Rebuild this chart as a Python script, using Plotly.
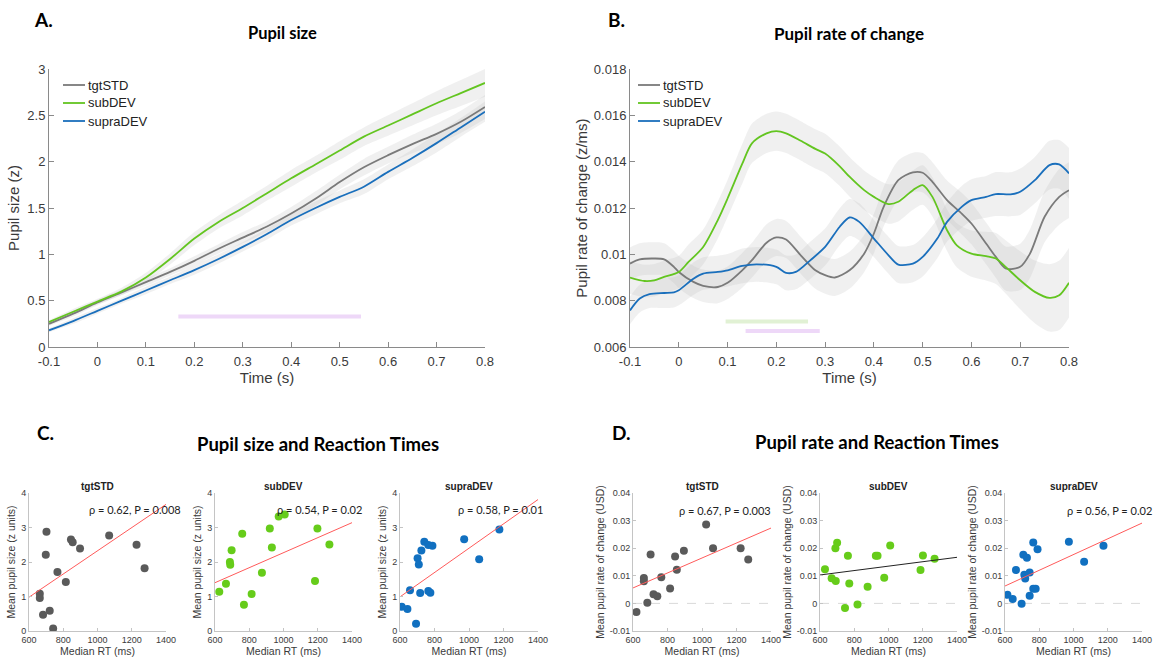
import plotly.graph_objects as go

W, H = 1158, 660

# ---------------- Panel A : Pupil size ----------------
t_a = [-0.1, -0.05, 0, 0.05, 0.1, 0.15, 0.2, 0.25, 0.3, 0.35, 0.4, 0.45, 0.5, 0.55, 0.6, 0.65, 0.7, 0.75, 0.8]
std_a = [0.25, 0.36, 0.48, 0.59, 0.70, 0.81, 0.93, 1.06, 1.18, 1.30, 1.44, 1.60, 1.78, 1.94, 2.07, 2.19, 2.30, 2.43, 2.59]
sub_a = [0.27, 0.38, 0.49, 0.60, 0.75, 0.95, 1.17, 1.35, 1.50, 1.66, 1.82, 1.97, 2.12, 2.27, 2.39, 2.51, 2.63, 2.74, 2.85]
sup_a = [0.18, 0.28, 0.39, 0.50, 0.61, 0.72, 0.83, 0.95, 1.08, 1.22, 1.37, 1.50, 1.62, 1.73, 1.89, 2.04, 2.20, 2.37, 2.54]
sem_std_a = [0.02, 0.03, 0.03, 0.03, 0.04, 0.04, 0.05, 0.05, 0.06, 0.06, 0.07, 0.08, 0.08, 0.09, 0.09, 0.10, 0.11, 0.12, 0.13]
sem_sub_a = [0.02, 0.03, 0.03, 0.04, 0.05, 0.06, 0.07, 0.07, 0.08, 0.08, 0.09, 0.09, 0.10, 0.10, 0.11, 0.12, 0.13, 0.14, 0.15]
sem_sup_a = [0.02, 0.03, 0.03, 0.03, 0.04, 0.04, 0.05, 0.05, 0.05, 0.06, 0.06, 0.07, 0.07, 0.08, 0.08, 0.09, 0.10, 0.10, 0.11]
sig_a = [("supraDEV", 0.167, 0.544, 0.328)]

# ---------------- Panel B : Pupil rate of change ----------------
t_std_b = [-0.1, -0.08, -0.05, -0.03, -0.01, 0.0, 0.03, 0.05, 0.08, 0.1, 0.13, 0.15, 0.18, 0.2, 0.22, 0.25, 0.28, 0.3, 0.32,
           0.35, 0.38, 0.4, 0.42, 0.45, 0.48, 0.5, 0.52, 0.55, 0.58, 0.6, 0.63, 0.65, 0.67, 0.7, 0.72, 0.75, 0.78, 0.8]
std_b = [0.00960, 0.00978, 0.00982, 0.00978, 0.00946, 0.00924, 0.00881, 0.00864, 0.00859, 0.00877, 0.00931, 0.00975,
         0.01050, 0.01073, 0.01064, 0.00996, 0.00931, 0.00910, 0.00900, 0.00931, 0.01003, 0.01090, 0.01205, 0.01320,
         0.01354, 0.01352, 0.01313, 0.01234, 0.01176, 0.01133, 0.01047, 0.00989, 0.00939, 0.00946, 0.01003, 0.01162,
         0.01248, 0.01277]
sem_std_b = [0.0007, 0.0007, 0.0007, 0.0007, 0.0007, 0.0007, 0.0007, 0.0007, 0.0007, 0.0007, 0.00075, 0.00075, 0.0008,
             0.0008, 0.0008, 0.0008, 0.0008, 0.0008, 0.0008, 0.0008, 0.0008, 0.00085, 0.00085, 0.00085, 0.00085, 0.00085,
             0.00085, 0.00085, 0.0009, 0.0009, 0.0009, 0.0009, 0.00095, 0.001, 0.00105, 0.0011, 0.0012, 0.0012]

t_sub_b = [-0.1, -0.07, -0.05, -0.03, 0.0, 0.02, 0.05, 0.08, 0.1, 0.13, 0.15, 0.18, 0.2, 0.22, 0.25, 0.28, 0.3, 0.33, 0.35,
           0.38, 0.4, 0.43, 0.45, 0.48, 0.5, 0.52, 0.55, 0.57, 0.6, 0.63, 0.65, 0.67, 0.7, 0.73, 0.76, 0.78, 0.8]
sub_b = [0.00900, 0.00885, 0.00888, 0.00903, 0.00924, 0.00967, 0.01032, 0.01148, 0.01241, 0.01390, 0.01479, 0.01522,
         0.01532, 0.01522, 0.01490, 0.01455, 0.01435, 0.01380, 0.01335, 0.01277, 0.01248, 0.01217, 0.01227, 0.01277,
         0.01299, 0.01248, 0.01104, 0.01039, 0.01003, 0.00992, 0.00982, 0.00946, 0.00888, 0.00838, 0.00812, 0.00823,
         0.00877]
sem_sub_b = [0.0007, 0.0007, 0.0007, 0.0007, 0.0007, 0.00075, 0.00075, 0.0008, 0.0008, 0.00085, 0.00085, 0.00085, 0.00085,
             0.00085, 0.00085, 0.00085, 0.00085, 0.00085, 0.00085, 0.00085, 0.00085, 0.00085, 0.00085, 0.00085, 0.00085,
             0.00085, 0.0009, 0.00095, 0.001, 0.00105, 0.0011, 0.00115, 0.00125, 0.00135, 0.00145, 0.0015, 0.0015]

t_sup_b = [-0.1, -0.08, -0.06, -0.03, -0.01, 0.0, 0.03, 0.05, 0.08, 0.1, 0.13, 0.16, 0.2, 0.22, 0.24, 0.27, 0.3, 0.33, 0.35,
           0.37, 0.4, 0.43, 0.45, 0.48, 0.5, 0.53, 0.55, 0.58, 0.6, 0.63, 0.65, 0.68, 0.7, 0.73, 0.76, 0.78, 0.8]
sup_b = [0.00758, 0.00809, 0.00828, 0.00833, 0.00836, 0.00845, 0.00895, 0.00917, 0.00924, 0.00931, 0.00950, 0.00957,
         0.00946, 0.00920, 0.00924, 0.00975, 0.01032, 0.01119, 0.01159, 0.01140, 0.01068, 0.00996, 0.00956, 0.00960,
         0.00989, 0.01068, 0.01140, 0.01205, 0.01234, 0.01248, 0.01260, 0.01259, 0.01270, 0.01320, 0.01385, 0.01388,
         0.01349]
sem_sup_b = [0.0006, 0.0006, 0.0006, 0.00065, 0.00065, 0.00065, 0.0007, 0.0007, 0.0007, 0.0007, 0.00075, 0.00075, 0.00075,
             0.00075, 0.00075, 0.0008, 0.0008, 0.0008, 0.0008, 0.0008, 0.0008, 0.0008, 0.0008, 0.0008, 0.00085, 0.00085,
             0.00085, 0.0009, 0.0009, 0.0009, 0.00095, 0.00095, 0.001, 0.001, 0.00105, 0.00105, 0.0011]
sig_b = [("subDEV", 0.096, 0.265, 0.00710), ("supraDEV", 0.137, 0.289, 0.00669)]

time_ticks = [-0.1, 0, 0.1, 0.2, 0.3, 0.4, 0.5, 0.6, 0.7, 0.8]
time_ticktext = ["-0.1", "0", "0.1", "0.2", "0.3", "0.4", "0.5", "0.6", "0.7", "0.8"]
size_ticks = [0, 0.5, 1, 1.5, 2, 2.5, 3]
size_ticktext = ["0", "0.5", "1", "1.5", "2", "2.5", "3"]
rate_ticks = [0.006, 0.008, 0.01, 0.012, 0.014, 0.016, 0.018]
rate_ticktext = ["0.006", "0.008", "0.01", "0.012", "0.014", "0.016", "0.018"]

# ---------------- Panel C : pupil size vs RT ----------------
rt_c_std = [663, 663, 702, 698, 682, 721, 741, 766, 815, 845, 855, 898, 1068, 1228, 1275]
ps_c_std = [1.08, 0.96, 2.88, 2.21, 0.47, 0.59, 0.07, 1.71, 1.42, 2.65, 2.57, 2.39, 2.77, 2.50, 1.82]
rt_c_sub = [625, 664, 687, 689, 697, 759, 769, 814, 874, 920, 932, 972, 1007, 1184, 1198, 1268]
ps_c_sub = [1.14, 1.37, 2.00, 1.92, 2.34, 2.82, 0.76, 1.07, 1.69, 2.97, 2.42, 3.32, 3.38, 1.45, 2.97, 2.51]
rt_c_sup = [610, 643, 658, 693, 702, 709, 717, 724, 741, 764, 764, 776, 788, 972, 1059, 1176]
ps_c_sup = [0.70, 0.64, 1.18, 0.21, 2.11, 1.93, 1.10, 2.33, 2.59, 2.49, 1.16, 1.11, 2.47, 2.66, 2.08, 2.94]

# ---------------- Panel D : pupil rate vs RT ----------------
rt_d_std = [620, 663, 663, 683, 702, 719, 741, 764, 815, 844, 854, 895, 1024, 1064, 1224, 1268]
pr_d_std = [-0.0031, 0.0080, 0.0092, 0.0002, 0.0177, 0.0033, 0.0026, 0.0095, 0.0054, 0.0170, 0.0122, 0.0191, 0.0286,
            0.0200, 0.0200, 0.0159]
rt_d_sub = [629, 668, 692, 690, 700, 746, 763, 771, 819, 878, 926, 936, 975, 1010, 1187, 1201, 1269]
pr_d_sub = [0.0124, 0.0091, 0.0081, 0.0200, 0.0220, -0.0017, 0.0173, 0.0072, -0.0004, 0.0060, 0.0173, 0.0173, 0.0093,
            0.0210, 0.0121, 0.0174, 0.0162]
rt_d_sup = [614, 645, 664, 697, 707, 713, 718, 728, 744, 744, 765, 765, 779, 790, 973, 1062, 1175]
pr_d_sup = [0.0031, 0.0016, 0.0121, -0.0001, 0.0176, 0.0104, 0.0090, 0.0165, 0.0112, 0.0028, 0.0221, 0.0053, 0.0053,
            0.0196, 0.0223, 0.0151, 0.0209]

fit_x = [600, 1400]
fit_c_std = [0.98, 3.67]
fit_c_sub = [1.40, 3.14]
fit_c_sup = [0.99, 3.81]
fit_d_std = [0.0056, 0.0273]
fit_d_sub = [0.0103, 0.0167]
fit_d_sup = [0.0063, 0.0291]
stats_c = ["ρ = 0.62, P = 0.008", "ρ = 0.54, P = 0.02", "ρ = 0.58, P = 0.01"]
stats_d = ["ρ = 0.67, P = 0.003", "", "ρ = 0.56, P = 0.02"]

rt_ticks = [600, 800, 1000, 1200, 1400]
c_ticks = [0, 1, 2, 3, 4]
d_ticks = [-0.01, 0, 0.01, 0.02, 0.03, 0.04]
d_ticktext = ["-0.01", "0", "0.01", "0.02", "0.03", "0.04"]

conditions = ["tgtSTD", "subDEV", "supraDEV"]

# ---------------- styling ----------------
LINE_COL = {"tgtSTD": "#7a7a7a", "subDEV": "#63c520", "supraDEV": "#1a6fbc"}
DOT_COL = {"tgtSTD": "#5a5a5a", "subDEV": "#66cc1a", "supraDEV": "#1170c0"}
SIG_COL = {"subDEV": "#e1f1d4", "supraDEV": "#eed8f8"}
BAND = "rgba(185,185,185,0.22)"
FIT_COL = ["#ff5a5a", "#222222", "#ff5a5a"]
SANS = "Liberation Sans, Arial, sans-serif"
TITLE_FONT = "Lato, Calibri, sans-serif"
AX_COL = "#8a8a8a"
TXT_COL = "#3a3a3a"


def px_x(p):
    return p / W


def px_y(p):
    return 1 - p / H


fig = go.Figure()


def add_band(t, y, s, xa, ya):
    up = [a + b for a, b in zip(y, s)]
    lo = [a - b for a, b in zip(y, s)]
    fig.add_trace(go.Scatter(x=t, y=up, mode="lines", line=dict(width=0, shape="spline", smoothing=0.8),
                             hoverinfo="skip", showlegend=False, xaxis=xa, yaxis=ya))
    fig.add_trace(go.Scatter(x=t, y=lo, mode="lines", line=dict(width=0, shape="spline", smoothing=0.8),
                             fill="tonexty", fillcolor=BAND, hoverinfo="skip", showlegend=False, xaxis=xa, yaxis=ya))


series_a = [("tgtSTD", t_a, std_a, sem_std_a), ("subDEV", t_a, sub_a, sem_sub_a), ("supraDEV", t_a, sup_a, sem_sup_a)]
series_b = [("tgtSTD", t_std_b, std_b, sem_std_b), ("subDEV", t_sub_b, sub_b, sem_sub_b),
            ("supraDEV", t_sup_b, sup_b, sem_sup_b)]

for name, t, y, s in series_a:
    add_band(t, y, s, "x", "y")
for name, t, y, s in series_b:
    add_band(t, y, s, "x2", "y2")

for name, x0, x1, yv in sig_a:
    fig.add_trace(go.Scatter(x=[x0, x1], y=[yv, yv], mode="lines", line=dict(color=SIG_COL[name], width=4),
                             showlegend=False, hoverinfo="skip", xaxis="x", yaxis="y"))
for name, x0, x1, yv in sig_b:
    fig.add_trace(go.Scatter(x=[x0, x1], y=[yv, yv], mode="lines", line=dict(color=SIG_COL[name], width=4),
                             showlegend=False, hoverinfo="skip", xaxis="x2", yaxis="y2"))

for name, t, y, s in series_a:
    fig.add_trace(go.Scatter(x=t, y=y, mode="lines", name=name, showlegend=False,
                             line=dict(color=LINE_COL[name], width=1.8, shape="spline", smoothing=0.8),
                             xaxis="x", yaxis="y"))
for name, t, y, s in series_b:
    fig.add_trace(go.Scatter(x=t, y=y, mode="lines", name=name, showlegend=False,
                             line=dict(color=LINE_COL[name], width=1.8, shape="spline", smoothing=0.8),
                             xaxis="x2", yaxis="y2"))

scatter_sets = [
    ("x3", "y3", "tgtSTD", rt_c_std, ps_c_std, fit_c_std, FIT_COL[0]),
    ("x4", "y4", "subDEV", rt_c_sub, ps_c_sub, fit_c_sub, FIT_COL[0]),
    ("x5", "y5", "supraDEV", rt_c_sup, ps_c_sup, fit_c_sup, FIT_COL[0]),
    ("x6", "y6", "tgtSTD", rt_d_std, pr_d_std, fit_d_std, FIT_COL[0]),
    ("x7", "y7", "subDEV", rt_d_sub, pr_d_sub, fit_d_sub, FIT_COL[1]),
    ("x8", "y8", "supraDEV", rt_d_sup, pr_d_sup, fit_d_sup, FIT_COL[2]),
]
for xa, ya, name, xs, ys, fit, fc in scatter_sets:
    if xa in ("x6", "x7", "x8"):
        fig.add_trace(go.Scatter(x=[rt_ticks[0], rt_ticks[-1]], y=[0, 0], mode="lines",
                                 line=dict(color="#d9d9d9", width=1, dash="dash"), showlegend=False,
                                 hoverinfo="skip", xaxis=xa, yaxis=ya))
    fig.add_trace(go.Scatter(x=xs, y=ys, mode="markers", name=name, showlegend=False,
                             marker=dict(color=DOT_COL[name], size=8, line=dict(width=0)), xaxis=xa, yaxis=ya))
    fig.add_trace(go.Scatter(x=fit_x, y=fit, mode="lines", line=dict(color=fc, width=1), showlegend=False,
                             hoverinfo="skip", xaxis=xa, yaxis=ya))


def axis_common(size):
    return dict(showline=True, linecolor=AX_COL, linewidth=1, ticks="inside", tickcolor=AX_COL, showgrid=False,
                zeroline=False, automargin=False, tickfont=dict(family=SANS, size=size, color=TXT_COL))


layout = dict(template="none", width=W, height=H, margin=dict(l=0, r=0, t=0, b=0, pad=0),
              paper_bgcolor="white", plot_bgcolor="white", showlegend=False,
              font=dict(family=SANS, color=TXT_COL))

layout["xaxis"] = dict(axis_common(13), domain=[px_x(49), px_x(485)], range=[-0.1, 0.8], tickvals=time_ticks,
                       ticktext=time_ticktext, ticklen=5, anchor="y", ticklabelstandoff=2,
                       title=dict(text="Time (s)", font=dict(size=15, color=TXT_COL), standoff=3))
layout["yaxis"] = dict(axis_common(13), domain=[px_y(347), px_y(69)], range=[0, 3], tickvals=size_ticks,
                       ticktext=size_ticktext, ticklen=5, anchor="x",
                       title=dict(text="Pupil size (z)", font=dict(size=15, color=TXT_COL), standoff=4))
layout["xaxis2"] = dict(axis_common(13), domain=[px_x(630), px_x(1069)], range=[-0.1, 0.8], tickvals=time_ticks,
                        ticktext=time_ticktext, ticklen=5, anchor="y2", ticklabelstandoff=2,
                        title=dict(text="Time (s)", font=dict(size=15, color=TXT_COL), standoff=3))
layout["yaxis2"] = dict(axis_common(13), domain=[px_y(347), px_y(69)], range=[0.006, 0.018], tickvals=rate_ticks,
                        ticktext=rate_ticktext, ticklen=5, anchor="x2",
                        title=dict(text="Pupil rate of change (z/ms)", font=dict(size=15, color=TXT_COL), standoff=2))

sc_dom = {
    "3": (29, 166), "4": (215, 352), "5": (400, 538),
    "6": (633, 771), "7": (820, 957), "8": (1005, 1142),
}
for k, (l, r) in sc_dom.items():
    is_d = k in ("6", "7", "8")
    layout["xaxis" + k] = dict(axis_common(9), domain=[px_x(l), px_x(r)], range=[600, 1400], tickvals=rt_ticks,
                              ticklen=3, linecolor="#c4c4c4", tickcolor="#c4c4c4", anchor="y" + k,
                              title=dict(text="Median RT (ms)", font=dict(size=10.5, color=TXT_COL), standoff=3))
    if is_d:
        ydict = dict(range=[-0.01, 0.04], tickvals=d_ticks, ticktext=d_ticktext,
                     title=dict(text="Mean pupil rate of change (USD)", font=dict(size=10.5, color=TXT_COL),
                                standoff=3))
    else:
        ydict = dict(range=[0, 4], tickvals=c_ticks,
                     title=dict(text="Mean pupil size (z units)", font=dict(size=10.5, color=TXT_COL), standoff=3))
    layout["yaxis" + k] = dict(axis_common(9), domain=[px_y(631), px_y(493)], ticklen=3, linecolor="#c4c4c4",
                              tickcolor="#c4c4c4", anchor="x" + k, **ydict)

fig.update_layout(**layout)

# ---------------- manual legends (panel A and B) ----------------
shapes = []
ann = []
legend_rows = [85, 103, 121]
for x_line0 in (63, 638):
    for name, yrow in zip(conditions, legend_rows):
        shapes.append(dict(type="line", xref="paper", yref="paper", x0=px_x(x_line0), x1=px_x(x_line0 + 22),
                           y0=px_y(yrow), y1=px_y(yrow), line=dict(color=LINE_COL[name], width=1.8)))
        ann.append(dict(x=px_x(x_line0 + 23), y=px_y(yrow), xref="paper", yref="paper", text=name, showarrow=False,
                        xanchor="left", yanchor="middle", font=dict(family=SANS, size=13, color="#222222")))


def txt(x, y, s, size, bold=True, family=TITLE_FONT, color="black", xanchor="center"):
    ann.append(dict(x=px_x(x), y=px_y(y), xref="paper", yref="paper", text=("<b>%s</b>" % s) if bold else s,
                    showarrow=False, font=dict(family=family, size=size, color=color), xanchor=xanchor,
                    yanchor="middle"))


txt(43, 19, "A.", 19)
txt(616, 19, "B.", 19)
txt(282, 33, "Pupil size", 16.5)
txt(849, 33, "Pupil rate of change", 17)
txt(45, 433, "C.", 19)
txt(621, 433, "D.", 19)
txt(318, 444, "Pupil size and Reaction Times", 18.5)
txt(877, 442, "Pupil rate and Reaction Times", 18.5)

for k, name in zip(["3", "4", "5", "6", "7", "8"], conditions * 2):
    ann.append(dict(x=0.5, y=px_y(486), xref="x%s domain" % k, yref="paper", text="<b>%s</b>" % name,
                    showarrow=False, font=dict(family=SANS, size=10, color="#222222"), xanchor="center",
                    yanchor="middle"))

stat_pos_c = [940, 950, 925]
stat_pos_d = [855, 0, 950]
for k, s, xp in zip(["3", "4", "5"], stats_c, stat_pos_c):
    ann.append(dict(x=xp, y=3.51, xref="x" + k, yref="y" + k, text=s, showarrow=False, xanchor="left",
                    yanchor="middle", font=dict(family=TITLE_FONT, size=11, color="#222222")))
for k, s, xp in zip(["6", "7", "8"], stats_d, stat_pos_d):
    if s:
        ann.append(dict(x=xp, y=0.0338, xref="x" + k, yref="y" + k, text=s, showarrow=False, xanchor="left",
                        yanchor="middle", font=dict(family=TITLE_FONT, size=11, color="#222222")))

fig.update_layout(annotations=ann, shapes=shapes)
fig.write_html("out.html", config={"displayModeBar": False},
               post_script="document.body.style.margin='0px';document.body.style.padding='0px';")
